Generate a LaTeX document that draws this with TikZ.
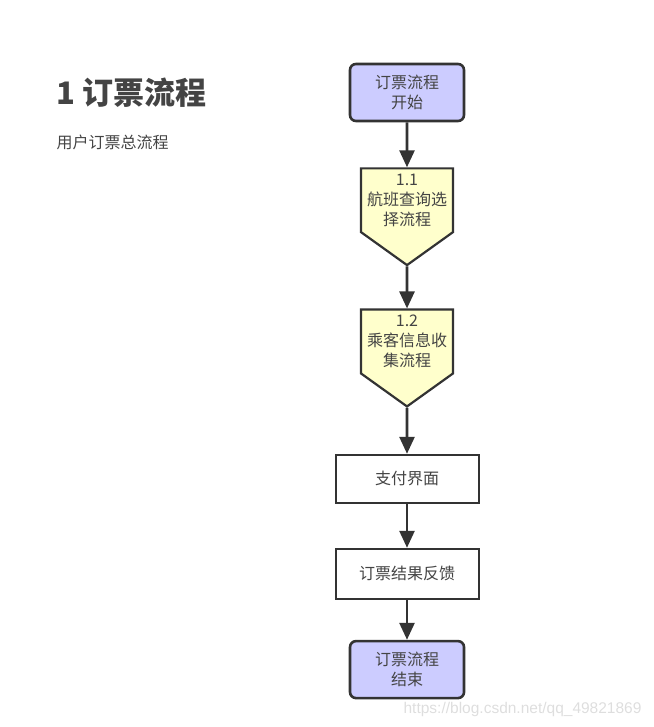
\documentclass[tikz,border=0pt]{standalone}
\usepackage{fontspec}
\setmainfont{Noto Sans CJK SC}
\newfontfamily\urlfont{Liberation Sans}
\usetikzlibrary{positioning,shapes.symbols,arrows.meta}
\definecolor{lineGray}{HTML}{333333}
\definecolor{textGray}{HTML}{444444}
\definecolor{startPurple}{HTML}{CCCCFF}
\definecolor{subYellow}{HTML}{FFFFCC}
\begin{document}
\begin{tikzpicture}[x=1pt, y=1pt, node distance=45pt,
        term/.style={
            rectangle,
            rounded corners=6pt,
            draw=lineGray, line width=2.6pt,
            fill=startPurple,
            text=textGray,
            font=\fontsize{16}{20}\selectfont,
            align=center,
            minimum width=114pt,
            minimum height=57pt},
        subproc/.style={
            signal,
            signal to=south,
            signal from=nowhere,
            signal pointer angle=108.7,
            draw=lineGray, line width=2.2pt,
            fill=subYellow,
            text=textGray,
            font=\fontsize{16}{20}\selectfont,
            align=center,
            inner xsep=2pt,
            inner ysep=5.5pt,
            minimum width=92pt},
        box/.style={
            rectangle,
            draw=lineGray, line width=2pt,
            fill=white,
            text=textGray,
            font=\fontsize{16}{20}\selectfont,
            minimum width=143pt,
            minimum height=48pt},
        arrow/.style={
            draw=lineGray,
            line width=2.6pt,
            -{Triangle[width=15pt,length=17pt]}}
        ]

        \useasboundingbox (0,0) rectangle (653,-727);

        \node (title) [anchor=west, text=textGray, font=\fontsize{31}{36}\selectfont\bfseries] at (53,-93) {1 订票流程};
        \node (subtitle) [anchor=west, text=textGray, font=\fontsize{16}{20}\selectfont] at (53,-142) {用户订票总流程};

        \node (start) [term] at (407,-92.5) {订票流程\\开始};
        \node (query) [subproc, below=45pt of start] {1.1\\航班查询选\\择流程};
        \node (passenger) [subproc, below=42pt of query] {1.2\\乘客信息收\\集流程};
        \node (pay) [box, below=46pt of passenger] {支付界面};
        \node (feedback) [box, below=44pt of pay, minimum height=50pt] {订票结果反馈};
        \node (finish) [term, below=40pt of feedback] {订票流程\\结束};

        \draw [arrow] (start) -- (query);
        \draw [arrow] (query) -- (passenger);
        \draw [arrow] (passenger) -- (pay);
        \draw [arrow] (pay) -- (feedback);
        \draw [arrow] (feedback) -- (finish);

        \node (url) [anchor=east, text=black!13, font=\urlfont\fontsize{15.5}{18}\selectfont] at (645,-709) {https://blog.csdn.net/qq\_49821869};

        \end{tikzpicture}
\end{document}
